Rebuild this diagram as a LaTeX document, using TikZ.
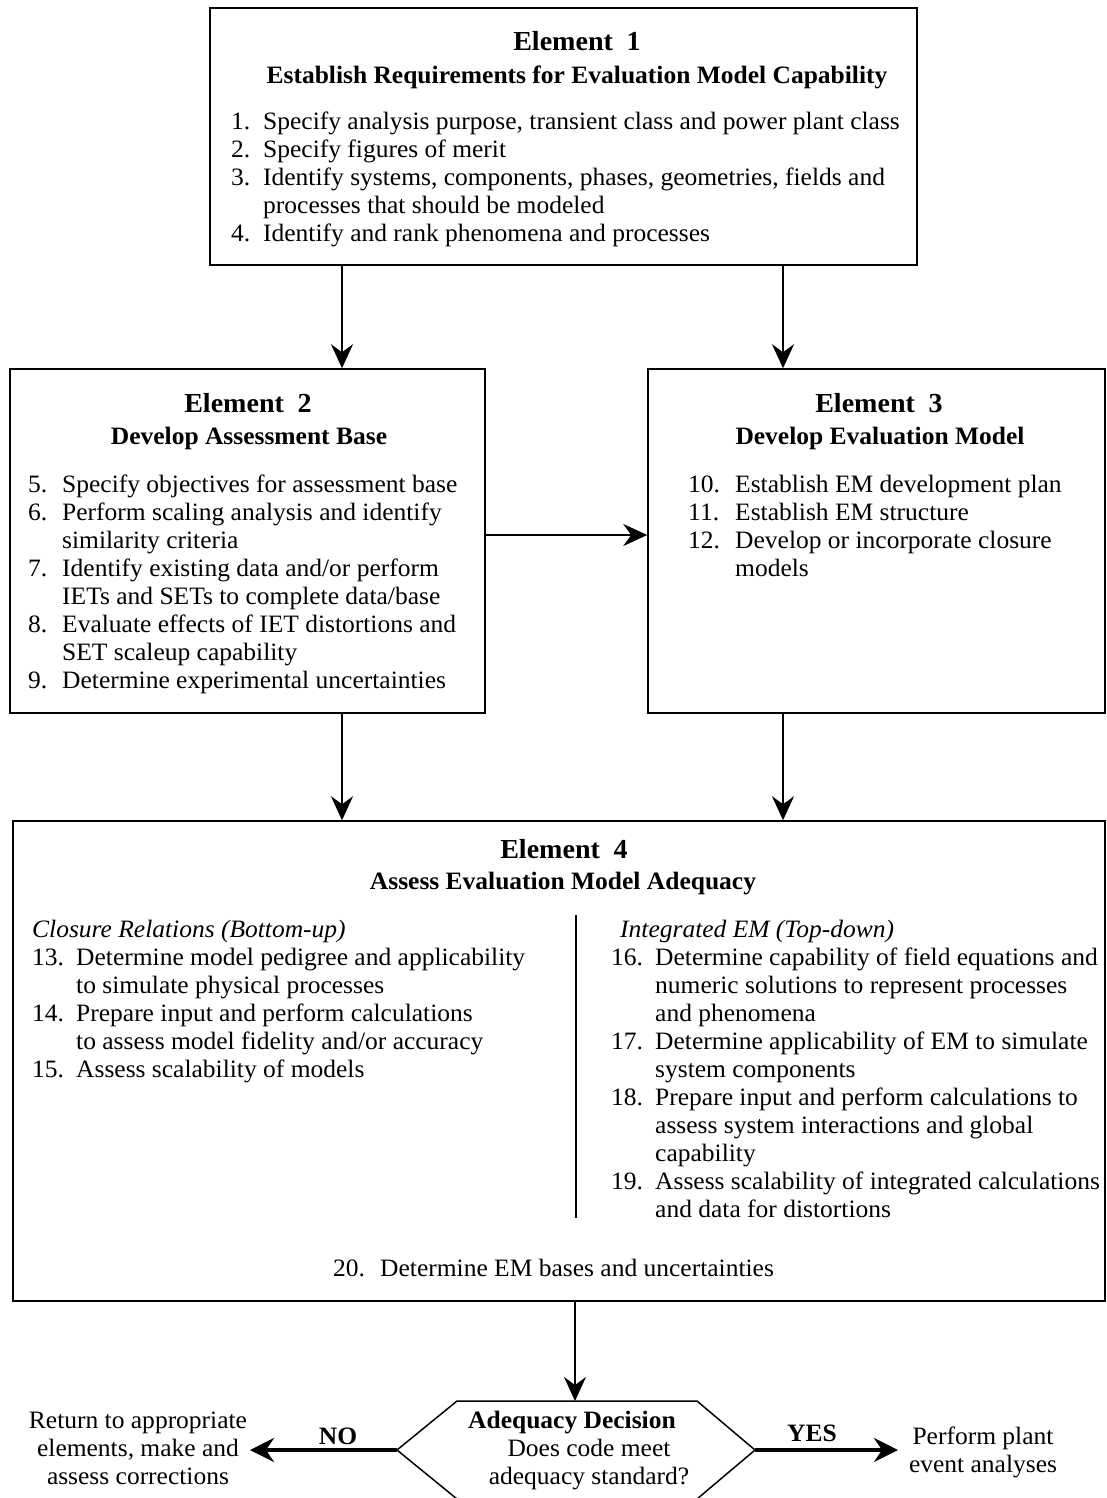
\documentclass[tikz,border=0pt]{standalone}
\usepackage{fontspec}
\setmainfont{Liberation Serif}[FakeStretch=1.02]
\usetikzlibrary{arrows.meta}
\newcommand\numbx[2]{\makebox[#1][l]{#2}}
\tikzset{
  elbox/.style={draw=black, line width=1.5pt, rectangle, inner sep=0pt},
  arr/.style={line width=2.2pt, -{Stealth[length=24pt,width=22pt,inset=8pt]}},
  bigarr/.style={line width=3.6pt, -{Stealth[length=24pt,width=24pt,inset=8pt]}},
  hd/.style={font=\fontsize{27.5}{30}\selectfont\bfseries, inner sep=0pt, anchor=base},
  sub/.style={font=\fontsize{25}{28}\selectfont\bfseries, inner sep=0pt, anchor=base},
  lst/.style={font=\fontsize{25}{28}\selectfont, inner sep=0pt, anchor=base west},
  ctr/.style={font=\fontsize{25}{28}\selectfont, inner sep=0pt, anchor=base},
  ital/.style={font=\fontsize{25}{28}\selectfont\itshape, inner sep=0pt, anchor=base west},
}
\begin{document}
\begin{tikzpicture}[x=1pt,y=-1pt]
\useasboundingbox (0,0) rectangle (1106,1498);
\clip (0,0) rectangle (1106,1498);
\fill[white] (0,0) rectangle (1106,1498);

% Element boxes
\node[elbox, minimum width=707pt, minimum height=257pt] (E1) at (563.5,136.5) {};
\node[elbox, minimum width=475pt, minimum height=344pt] (E2) at (247.5,541) {};
\node[elbox, minimum width=457pt, minimum height=344pt] (E3) at (876.5,541) {};
\node[elbox, minimum width=1092pt, minimum height=480pt] (E4) at (559,1061) {};

% Element 1
\node[hd] (E1h) at (577,51) {Element\hspace{0.5em}1};
\node[sub] (E1s) at (577,84) {Establish Requirements for Evaluation Model Capability};
\node[lst] (E1l) at (231,130) {\begin{tabular}[t]{@{}l@{}}
\numbx{32pt}{1.}Specify analysis purpose, transient class and power plant class\\
\numbx{32pt}{2.}Specify figures of merit\\
\numbx{32pt}{3.}Identify systems, components, phases, geometries, fields and\\
\numbx{32pt}{}processes that should be modeled\\
\numbx{32pt}{4.}Identify and rank phenomena and processes
\end{tabular}};

% Element 2
\node[hd] (E2h) at (248,412) {Element\hspace{0.5em}2};
\node[sub] (E2s) at (249,444) {Develop Assessment Base};
\node[lst] (E2l) at (28,492) {\begin{tabular}[t]{@{}l@{}}
\numbx{34pt}{5.}Specify objectives for assessment base\\
\numbx{34pt}{6.}Perform scaling analysis and identify\\
\numbx{34pt}{}similarity criteria\\
\numbx{34pt}{7.}Identify existing data and/or perform\\
\numbx{34pt}{}IETs and SETs to complete data/base\\
\numbx{34pt}{8.}Evaluate effects of IET distortions and\\
\numbx{34pt}{}SET scaleup capability\\
\numbx{34pt}{9.}Determine experimental uncertainties
\end{tabular}};

% Element 3
\node[hd] (E3h) at (879,412) {Element\hspace{0.5em}3};
\node[sub] (E3s) at (880,444) {Develop Evaluation Model};
\node[lst] (E3l) at (688,492) {\begin{tabular}[t]{@{}l@{}}
\numbx{47pt}{10.}Establish EM development plan\\
\numbx{47pt}{11.}Establish EM structure\\
\numbx{47pt}{12.}Develop or incorporate closure\\
\numbx{47pt}{}models
\end{tabular}};

% Element 4
\node[hd] (E4h) at (564,858) {Element\hspace{0.5em}4};
\node[sub] (E4s) at (563,889) {Assess Evaluation Model Adequacy};
\node[ital] (E4lh) at (32,937) {Closure Relations (Bottom-up)};
\node[lst] (E4l) at (32,965) {\begin{tabular}[t]{@{}l@{}}
\numbx{44pt}{13.}Determine model pedigree and applicability\\
\numbx{44pt}{}to simulate physical processes\\
\numbx{44pt}{14.}Prepare input and perform calculations\\
\numbx{44pt}{}to assess model fidelity and/or accuracy\\
\numbx{44pt}{15.}Assess scalability of models
\end{tabular}};
\draw[line width=1.2pt] (576,915) -- (576,1218);
\node[ital] (E4rh) at (620,937) {Integrated EM (Top-down)};
\node[lst] (E4r) at (611,965) {\begin{tabular}[t]{@{}l@{}}
\numbx{44pt}{16.}Determine capability of field equations and\\
\numbx{44pt}{}numeric solutions to represent processes\\
\numbx{44pt}{}and phenomena\\
\numbx{44pt}{17.}Determine applicability of EM to simulate\\
\numbx{44pt}{}system components\\
\numbx{44pt}{18.}Prepare input and perform calculations to\\
\numbx{44pt}{}assess system interactions and global\\
\numbx{44pt}{}capability\\
\numbx{44pt}{19.}Assess scalability of integrated calculations\\
\numbx{44pt}{}and data for distortions
\end{tabular}};
\node[lst] (E4b) at (333,1276) {\numbx{47pt}{20.}Determine EM bases and uncertainties};

% Decision hexagon
\coordinate (hexL) at (397,1450);
\coordinate (hexTL) at (457,1401);
\coordinate (hexT) at (575,1401);
\coordinate (hexTR) at (697,1401);
\coordinate (hexR) at (755,1450);
\coordinate (hexBR) at (697,1499);
\coordinate (hexBL) at (457,1499);
\draw[line width=1.5pt] (hexL) -- (hexTL) -- (hexTR) -- (hexR) -- (hexBR) -- (hexBL) -- cycle;
\node[sub] (dec1) at (572,1428) {Adequacy Decision};
\node[ctr] (dec2) at (589,1456) {Does code meet};
\node[ctr] (dec3) at (589,1484) {adequacy standard?};

\node[ctr] (ret) at (138,1428) {\begin{tabular}[t]{@{}c@{}}Return to appropriate\\ elements, make and\\ assess corrections\end{tabular}};
\node[ctr] (perf) at (983,1444) {\begin{tabular}[t]{@{}c@{}}Perform plant\\ event analyses\end{tabular}};
\node[sub] (no) at (338,1444) {NO};
\node[sub] (yes) at (812,1441) {YES};
\coordinate (noTip) at (250,1450);
\coordinate (yesTip) at (898,1450);

% Connectors
\coordinate (a1) at (342,0);
\coordinate (a2) at (783,0);
\coordinate (a3) at (0,535);
\draw[arr] (E1.south -| a1) -- (E2.north -| a1);
\draw[arr] (E1.south -| a2) -- (E3.north -| a2);
\draw[arr] (E2.east |- a3) -- (E3.west |- a3);
\draw[arr] (E2.south -| a1) -- (E4.north -| a1);
\draw[arr] (E3.south -| a2) -- (E4.north -| a2);
\draw[arr] (E4.south -| hexT) -- (hexT);
\draw[bigarr] (hexL) -- (noTip);
\draw[bigarr] (hexR) -- (yesTip);
\end{tikzpicture}
\end{document}
